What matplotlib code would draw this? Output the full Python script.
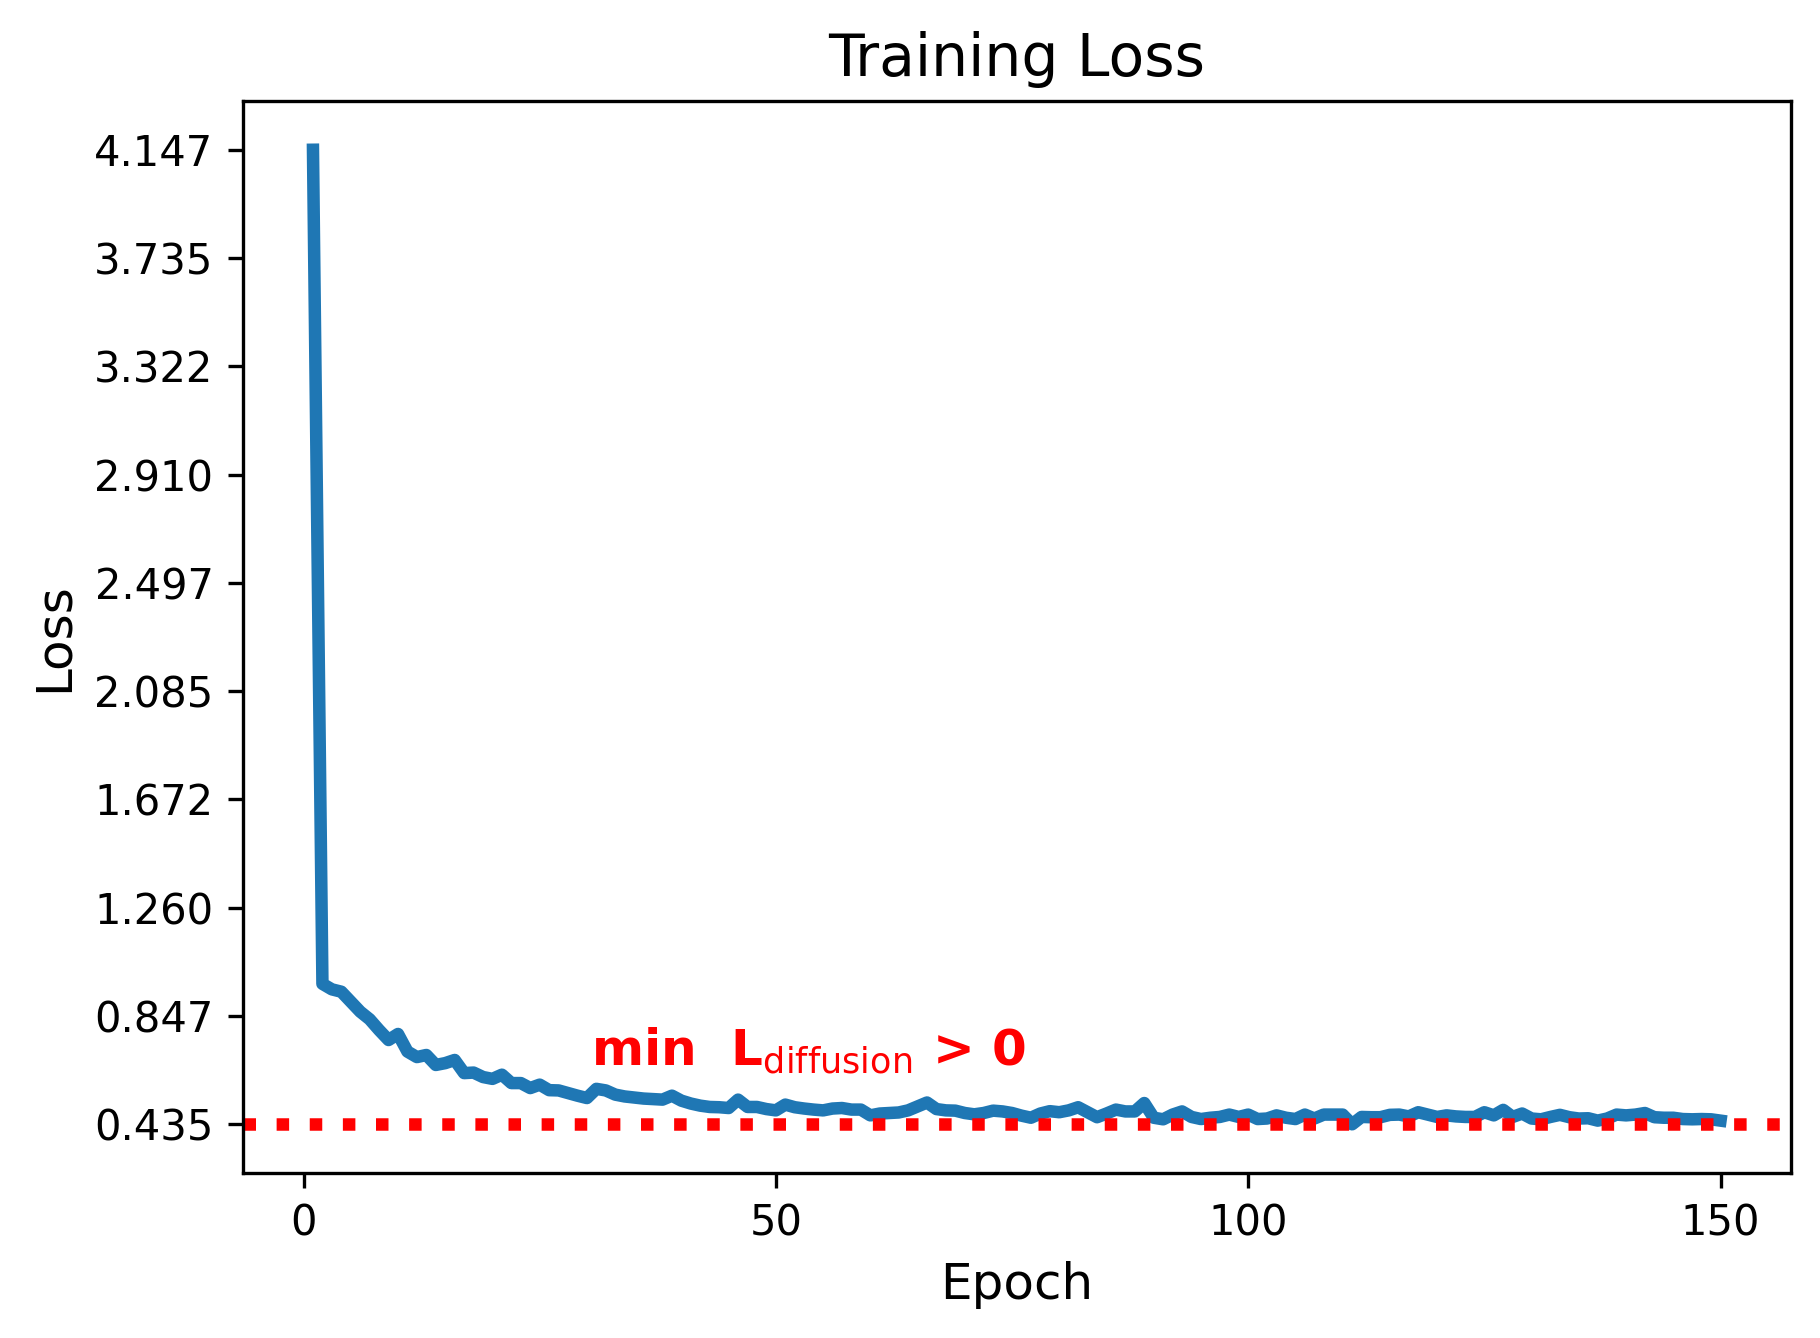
# Training loss curve
import numpy as np
import matplotlib
matplotlib.use("Agg")
import matplotlib.pyplot as plt
from matplotlib.ticker import MultipleLocator

# loss per epoch
loss = [
    4.147, 0.970, 0.949, 0.940, 0.902, 0.864, 0.835, 0.794, 0.756, 0.779,
    0.712, 0.691, 0.699, 0.661, 0.668, 0.680, 0.630, 0.632, 0.615, 0.608,
    0.624, 0.592, 0.592, 0.573, 0.586, 0.565, 0.564, 0.554, 0.544, 0.535,
    0.570, 0.564, 0.548, 0.541, 0.537, 0.533, 0.531, 0.529, 0.544, 0.525,
    0.514, 0.506, 0.501, 0.500, 0.497, 0.529, 0.501, 0.501, 0.493, 0.488,
    0.510, 0.500, 0.495, 0.491, 0.488, 0.495, 0.497, 0.491, 0.491, 0.469,
    0.476, 0.478, 0.480, 0.488, 0.503, 0.518, 0.493, 0.488, 0.487, 0.478,
    0.473, 0.478, 0.487, 0.484, 0.478, 0.468, 0.460, 0.476, 0.485, 0.481,
    0.488, 0.500, 0.481, 0.462, 0.476, 0.491, 0.484, 0.484, 0.516, 0.460,
    0.454, 0.472, 0.484, 0.463, 0.455, 0.460, 0.463, 0.472, 0.463, 0.472,
    0.455, 0.457, 0.469, 0.460, 0.455, 0.472, 0.457, 0.472, 0.472, 0.472,
    0.435, 0.463, 0.462, 0.462, 0.471, 0.472, 0.465, 0.481, 0.472, 0.463,
    0.469, 0.465, 0.463, 0.463, 0.481, 0.469, 0.490, 0.463, 0.476, 0.457,
    0.454, 0.463, 0.471, 0.462, 0.457, 0.458, 0.449, 0.457, 0.472, 0.469,
    0.472, 0.478, 0.462, 0.460, 0.460, 0.455, 0.454, 0.455, 0.454, 0.449,
]
epochs = np.arange(1, len(loss) + 1)

fig, ax = plt.subplots(figsize=(1820 / 300, 1338 / 300), dpi=300)
fig.subplots_adjust(left=0.1333, right=0.984, top=0.9245, bottom=0.1233)

ax.plot(epochs, loss, color="#1f77b4", linewidth=3)

min_loss = min(loss)
max_loss = max(loss)
ax.axhline(min_loss, color="red", linestyle=":", linewidth=3)

ax.text(30.4, 0.66, r"min  $\mathbf{L}_{\mathrm{diffusion}}$ > 0",
        color="red", fontsize=12, fontweight="bold")

yticks = np.linspace(min_loss, max_loss, 10)
ax.set_yticks(yticks)
ax.set_yticklabels([f"{v:.3f}" for v in yticks])
ax.xaxis.set_major_locator(MultipleLocator(50))

ax.set_title("Training Loss", fontsize=14)
ax.set_xlabel("Epoch", fontsize=12)
ax.set_ylabel("Loss", fontsize=12)

plt.savefig("out.png", dpi=300)
